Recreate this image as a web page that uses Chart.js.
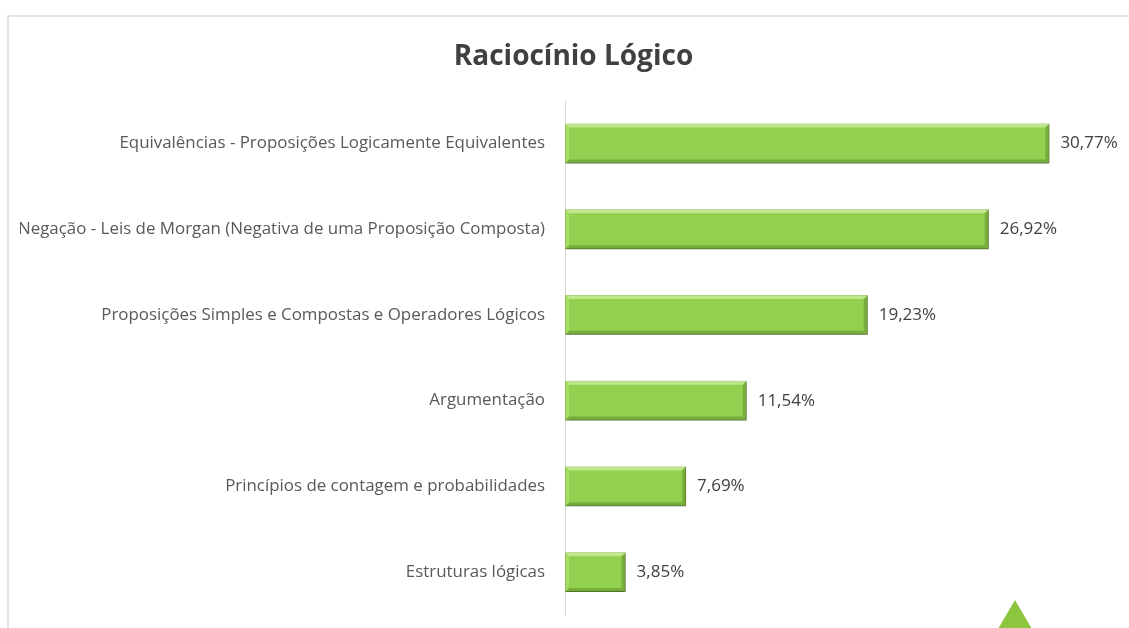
<!DOCTYPE html>
<html>
<head>
<meta charset="utf-8">
<script src="https://cdn.jsdelivr.net/npm/chart.js@4.4.1/dist/chart.umd.min.js"></script>
<style>
    html, body { margin: 0; padding: 0; background: #fff; overflow: hidden; }
    #wrap { position: relative; width: 1129px; height: 628px; }
    #frame { position: absolute; left: 7px; top: 15px; width: 1200px; height: 700px; border-left: 2px solid #e3e3e3; border-top: 2px solid #e3e3e3; }
    #tri { position: absolute; left: 988px; top: 600px; width: 54px; height: 46px; background: #8cc63f; clip-path: polygon(50% 0, 100% 100%, 0 100%); }
    canvas { position: absolute; left: 0; top: 0; }
</style>
</head>
<body>
<div id="wrap">
    <div id="frame"></div>
    <canvas id="chart" width="1129" height="628"></canvas>
    <div id="tri"></div>
</div>
<script>
const categories = [
    'Equivalências - Proposições Logicamente Equivalentes',
    'Negação - Leis de Morgan (Negativa de uma Proposição Composta)',
    'Proposições Simples e Compostas e Operadores Lógicos',
    'Argumentação',
    'Princípios de contagem e probabilidades',
    'Estruturas lógicas'
];
const percentages = [30.77, 26.92, 19.23, 11.54, 7.69, 3.85];
const valueLabels = ['30,77%', '26,92%', '19,23%', '11,54%', '7,69%', '3,85%'];

const FONT = "'Open Sans', sans-serif";

// soft shadow under the bars
const shadowPlugin = {
    id: 'barShadow',
    beforeDatasetDraw(chart) {
        const ctx = chart.ctx;
        ctx.save();
        ctx.shadowColor = 'rgba(0,0,0,0.35)';
        ctx.shadowBlur = 4;
        ctx.shadowOffsetX = 1;
        ctx.shadowOffsetY = 2;
    },
    afterDatasetDraw(chart) {
        chart.ctx.restore();
    }
};

// bevel highlight + value labels
const bevelPlugin = {
    id: 'bevel',
    afterDatasetsDraw(chart) {
        const ctx = chart.ctx;
        const meta = chart.getDatasetMeta(0);
        meta.data.forEach((bar, i) => {
            const top = bar.y - bar.height / 2;
            const bottom = bar.y + bar.height / 2;
            const left = bar.base;
            const right = bar.x;
            const b = 4;
            ctx.save();
            // top bevel
            ctx.fillStyle = 'rgba(215,245,170,0.65)';
            ctx.beginPath();
            ctx.moveTo(left, top); ctx.lineTo(right, top);
            ctx.lineTo(right - b, top + b); ctx.lineTo(left + b, top + b);
            ctx.closePath(); ctx.fill();
            // bottom bevel
            ctx.fillStyle = 'rgba(70,110,20,0.35)';
            ctx.beginPath();
            ctx.moveTo(left, bottom); ctx.lineTo(right, bottom);
            ctx.lineTo(right - b, bottom - b); ctx.lineTo(left + b, bottom - b);
            ctx.closePath(); ctx.fill();
            // right bevel
            ctx.fillStyle = 'rgba(80,125,25,0.4)';
            ctx.beginPath();
            ctx.moveTo(right, top); ctx.lineTo(right, bottom);
            ctx.lineTo(right - b, bottom - b); ctx.lineTo(right - b, top + b);
            ctx.closePath(); ctx.fill();
            // left bevel
            ctx.fillStyle = 'rgba(190,235,130,0.45)';
            ctx.beginPath();
            ctx.moveTo(left, top); ctx.lineTo(left, bottom);
            ctx.lineTo(left + b, bottom - b); ctx.lineTo(left + b, top + b);
            ctx.closePath(); ctx.fill();

            ctx.fillStyle = '#404040';
            ctx.font = '17px ' + FONT;
            ctx.textAlign = 'left';
            ctx.textBaseline = 'middle';
            ctx.fillText(valueLabels[i], right + 11, bar.y);
            ctx.restore();
        });
    }
};

new Chart(document.getElementById('chart'), {
    type: 'bar',
    data: {
        labels: categories,
        datasets: [{
            data: percentages,
            backgroundColor: '#92d050',
            borderColor: '#6f9f35',
            borderWidth: 1,
            borderSkipped: false,
            categoryPercentage: 1,
            barPercentage: 0.465
        }]
    },
    options: {
        indexAxis: 'y',
        responsive: false,
        animation: false,
        layout: { padding: { left: 20, right: 2, bottom: 13 } },
        plugins: {
            legend: { display: false },
            tooltip: { enabled: false },
            title: {
                display: true,
                text: 'Raciocínio Lógico',
                color: '#404040',
                font: { family: FONT, size: 28, weight: 'bold' },
                padding: { top: 40, bottom: 27 }
            }
        },
        scales: {
            x: { display: false, min: 0, max: 35.7 },
            y: {
                grid: { display: false },
                border: { display: true, color: '#d9d9d9', width: 1 },
                ticks: { color: '#595959', font: { family: FONT, size: 16.9 }, padding: 12 },
                afterFit: (s) => { s.width = 545; s.paddingTop = 0; s.paddingBottom = 0; }
            }
        }
    },
    plugins: [shadowPlugin, bevelPlugin]
});
</script>
</body>
</html>
